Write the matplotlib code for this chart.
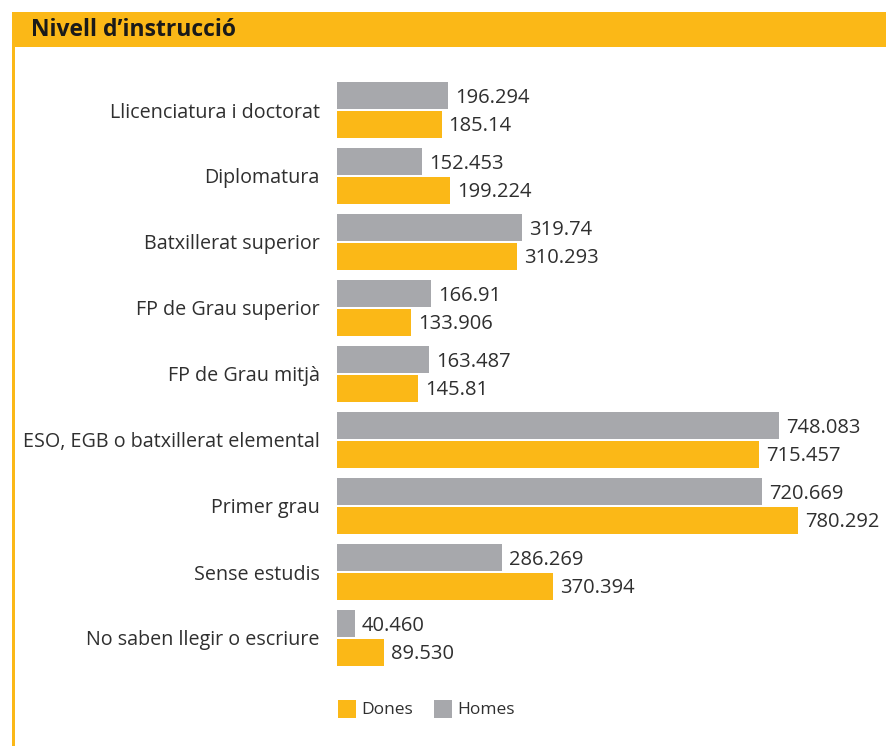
import matplotlib
matplotlib.use("Agg")
import matplotlib.pyplot as plt
from matplotlib.patches import Rectangle

plt.rcParams['font.family'] = ['Open Sans', 'DejaVu Sans']

categories = ["Llicenciatura i doctorat", "Diplomatura", "Batxillerat superior",
              "FP de Grau superior", "FP de Grau mitjà",
              "ESO, EGB o batxillerat elemental", "Primer grau",
              "Sense estudis", "No saben llegir o escriure"]
homes = [196.294, 152.453, 319.74, 166.91, 163.487, 748.083, 720.669, 286.269, 40.460]
dones = [185.14, 199.224, 310.293, 133.906, 145.81, 715.457, 780.292, 370.394, 89.530]
homes_labels = ["196.294", "152.453", "319.74", "166.91", "163.487", "748.083", "720.669", "286.269", "40.460"]
dones_labels = ["185.14", "199.224", "310.293", "133.906", "145.81", "715.457", "780.292", "370.394", "89.530"]
legend_labels = ["Dones", "Homes"]

ORANGE = "#FBB817"
GRAY = "#A7A8AC"
TXT = "#2f2f2f"

W, H = 887, 746
fig = plt.figure(figsize=(W / 100, H / 100), dpi=100)

# header bar and left rule
fig.patches.append(Rectangle((12 / W, (H - 47) / H), 1 - 12 / W, 35 / H,
                             transform=fig.transFigure, facecolor=ORANGE, edgecolor='none'))
fig.patches.append(Rectangle((12 / W, 0), 2.6 / W, (H - 46) / H,
                             transform=fig.transFigure, facecolor=ORANGE, edgecolor='none'))
fig.text(31 / W, (H - 30) / H, "Nivell d’instrucció", fontsize=16.5, fontweight='bold',
         color="#1a1a1a", va='center', ha='left')

# value axis: zero sits at ~331 px, 0.5988 px per unit; plot area begins at 337 px
zero_px, ppu = 330.8, 0.5988
ax_left, ax_right = 337, 869
ax_top, ax_bot = 77, 671
ax = fig.add_axes([ax_left / W, (H - ax_bot) / H, (ax_right - ax_left) / W, (ax_bot - ax_top) / H])
ax.set_xlim((ax_left - zero_px) / ppu, (ax_right - zero_px) / ppu)
ax.set_ylim(8.5, -0.5)

ypos = list(range(len(categories)))
off = 0.215
bh = 0.41
ax.barh([y - off for y in ypos], homes, height=bh, color=GRAY)
ax.barh([y + off for y in ypos], dones, height=bh, color=ORANGE)

pad = 7 / ppu
for y, v, lab in zip(ypos, homes, homes_labels):
    ax.text(v + pad, y - off + 0.03, lab, va='center', ha='left', fontsize=14.5, color=TXT)
for y, v, lab in zip(ypos, dones, dones_labels):
    ax.text(v + pad, y + off + 0.03, lab, va='center', ha='left', fontsize=14.5, color=TXT)

ax.set_yticks(ypos)
ax.set_yticklabels(categories, fontsize=14.2, color=TXT)
ax.tick_params(axis='y', length=0, pad=12.3)
ax.set_xticks([])
for s in ax.spines.values():
    s.set_visible(False)

# legend drawn as squares + text
leg_items = [(338, ORANGE, 361), (434, GRAY, 457)]
for (sx, col, tx), lab in zip(leg_items, legend_labels):
    fig.patches.append(Rectangle((sx / W, (H - 718) / H), 18 / W, 18 / H,
                                 transform=fig.transFigure, facecolor=col, edgecolor='none'))
    fig.text(tx / W, (H - 710) / H, lab, fontsize=12.5, color=TXT, va='center', ha='left')

fig.savefig("out.png", dpi=100)
